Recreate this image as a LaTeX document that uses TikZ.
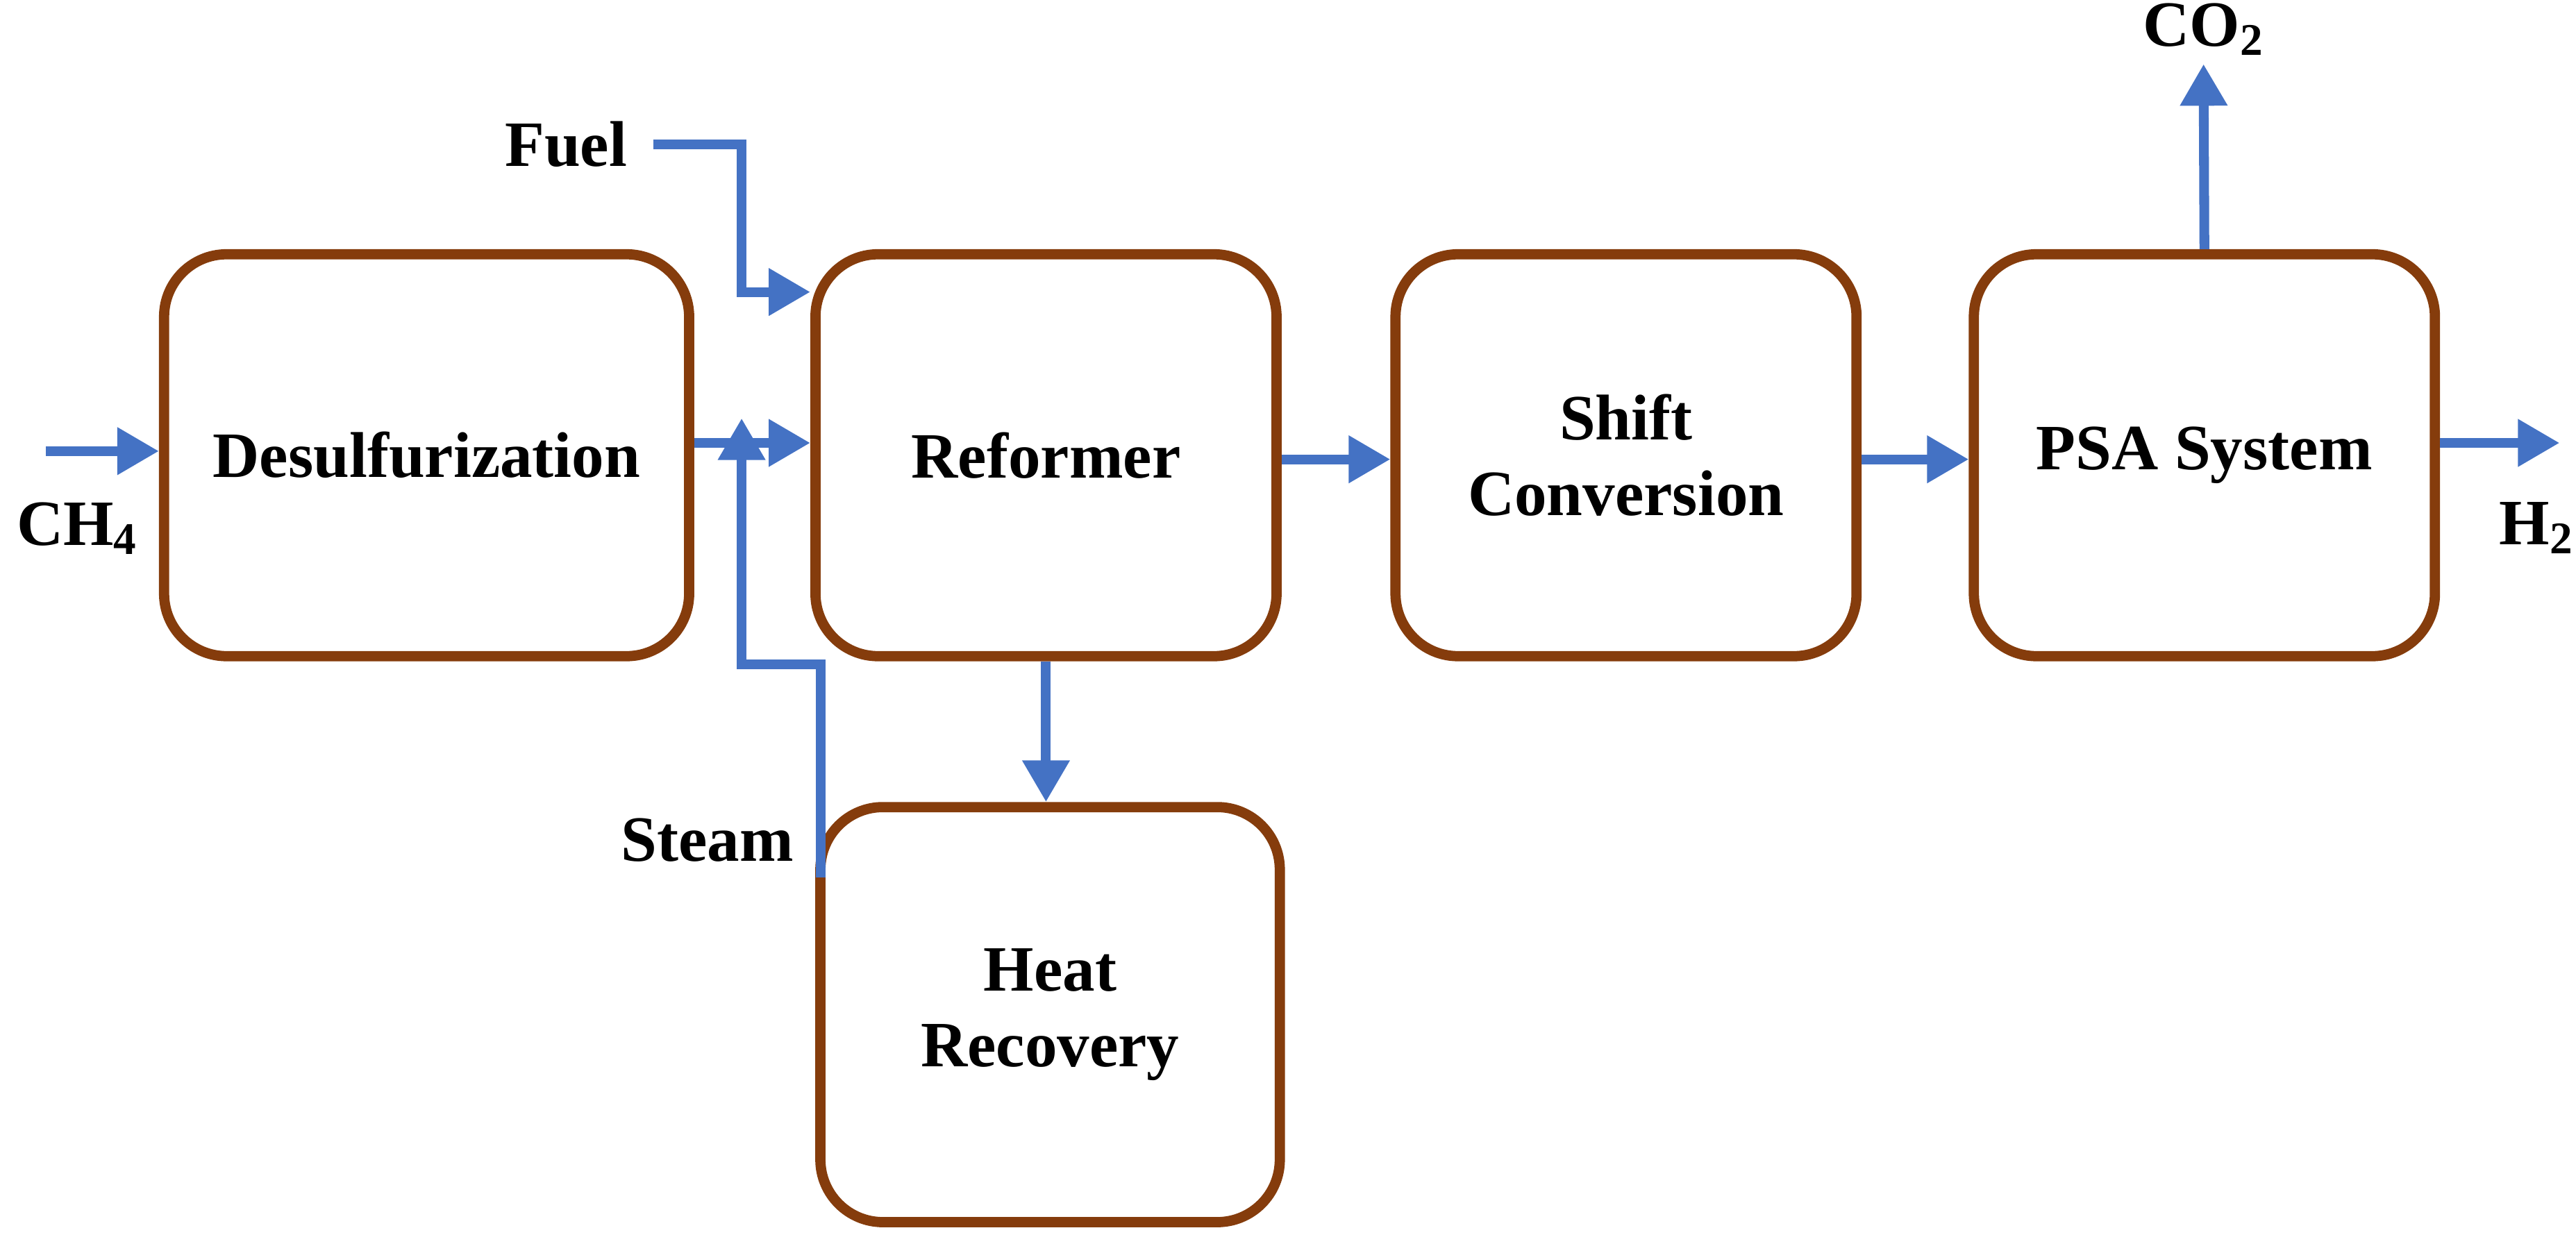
\documentclass[tikz,border=0pt]{standalone}
\usepackage{fontspec}
\setmainfont{Liberation Serif}
\usetikzlibrary{arrows.meta}
\begin{document}
\begin{tikzpicture}[x=0.02363cm,y=-0.02363cm,
 box/.style={line width=4.2pt,rounded corners=0.9cm,inner sep=0pt},
 flow/.style={draw={rgb,255:red,68;green,114;blue,196},line width=4pt,-{Triangle[length=0.6cm,width=0.65cm]}},
 lbl/.style={font=\fontsize{26.5}{31}\selectfont\bfseries,align=center}]
\definecolor{boxc}{RGB}{133,60,12}
\tikzset{box/.append style={draw=boxc}}
\useasboundingbox (0,0) rectangle (1570,758);
\node[box,minimum width=320*0.02363cm,minimum height=245*0.02363cm] (des) at (260,277.5) {};
\node[lbl] at (des) {Desulfurization};
\node[box,minimum width=281*0.02363cm,minimum height=245*0.02363cm] (ref) at (637.5,277.5) {};
\node[lbl] at (ref) {Reformer};
\node[box,minimum width=281*0.02363cm,minimum height=245*0.02363cm] (shi) at (991,277.5) {};
\node[lbl] at (shi) {Shift\\Conversion};
\node[box,minimum width=281*0.02363cm,minimum height=245*0.02363cm] (psa) at (1343.5,277.5) {};
\node[lbl] at (psa) {PSA System};
\node[box,minimum width=280*0.02363cm,minimum height=253*0.02363cm] (heat) at (640,618.5) {};
\node[lbl] at (heat) {Heat\\Recovery};
\node[lbl] (ch4) at (47,322) {CH\textsubscript{4}};
\node[lbl] (fuel) at (345,88) {Fuel};
\node[lbl] (steam) at (431,512) {Steam};
\node[lbl] (h2) at (1546,322) {H\textsubscript{2}};
\node[lbl] (co2) at (1343,18) {CO\textsubscript{2}};
\coordinate (c0) at (28,275);
\coordinate (f0) at (398,88);
\coordinate (s0) at (500,535);
\coordinate (h2e) at (1560,270);
\draw[flow] (c0) -- (des.west|-c0);
\draw[flow] (des.east|-0,270) -- (ref.west|-0,270);
\draw[flow] (f0) -- (452,88) -- (452,178) -- (ref.west|-0,178);
\draw[flow] (s0) -- (500,405) -- (452,405) -- (452,255);
\draw[flow] (ref.south) -- (heat.north-|ref.south);
\draw[flow] (ref.east|-0,280) -- (shi.west|-0,280);
\draw[flow] (shi.east|-0,280) -- (psa.west|-0,280);
\draw[flow] (psa.east|-h2e) -- (h2e);
\draw[flow] (psa.north) -- (co2.south);
\end{tikzpicture}
\end{document}
